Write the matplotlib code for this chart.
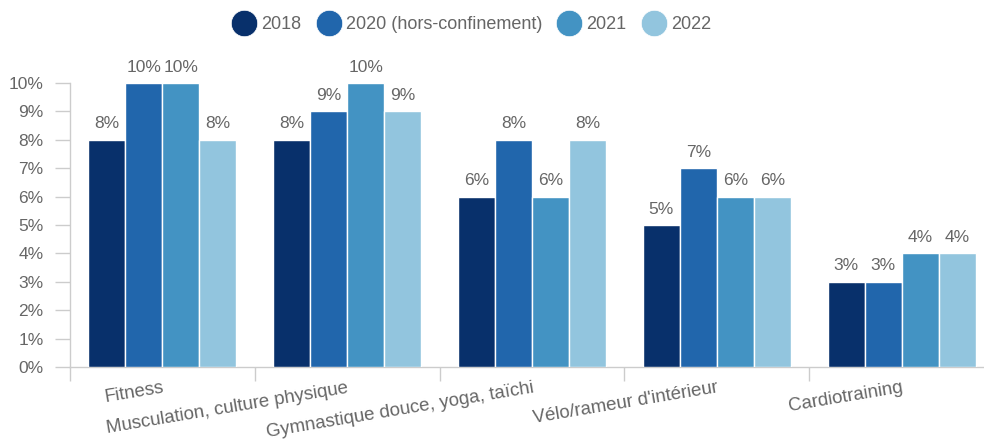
import matplotlib

matplotlib.use("Agg")

import matplotlib.pyplot as plt
import numpy as np
from matplotlib.lines import Line2D

plt.rcParams["font.family"] = ["Liberation Sans", "DejaVu Sans"]

categories = [
    "Fitness",
    "Musculation, culture physique",
    "Gymnastique douce, yoga, taïchi",
    "Vélo/rameur d'intérieur",
    "Cardiotraining",
]
series_names = ["2018", "2020 (hors-confinement)", "2021", "2022"]
values_2018 = [8, 8, 6, 5, 3]
values_2020 = [10, 9, 8, 7, 3]
values_2021 = [10, 10, 6, 6, 4]
values_2022 = [8, 9, 8, 6, 4]
y_ticks = [0, 1, 2, 3, 4, 5, 6, 7, 8, 9, 10]

colors = ["#08306b", "#2166ac", "#4393c3", "#92c5de"]
text_color = "#666666"
line_color = "#cccccc"

series = [values_2018, values_2020, values_2021, values_2022]

fig = plt.figure(figsize=(9.84, 4.43), dpi=100)
ax = fig.add_axes([70 / 984, 76 / 443, 924 / 984, 284 / 443])

x = np.arange(len(categories))
bar_w = 0.2
for i, (vals, color) in enumerate(zip(series, colors)):
    pos = x + (i - 1.5) * bar_w
    bars = ax.bar(pos, vals, width=bar_w, color=color, edgecolor="white",
                  linewidth=1, zorder=3)
    for rect, v in zip(bars, vals):
        ax.annotate(f"{v}%", (rect.get_x() + rect.get_width() / 2, v),
                    xytext=(0, 6), textcoords="offset points",
                    ha="center", va="bottom", fontsize=12.5, color=text_color)

ax.set_xlim(-0.5, len(categories) - 0.5)
ax.set_ylim(0, 10)
ax.set_yticks(y_ticks)
ax.set_yticklabels([f"{t}%" for t in y_ticks])

# category names sit under the group centres, separators at the boundaries
ax.set_xticks(x)
ax.set_xticklabels(categories, rotation=9.5, ha="right", va="top",
                   rotation_mode="anchor")
ax.set_xticks(np.arange(len(categories) + 1) - 0.5, minor=True)
ax.tick_params(axis="x", which="major", length=0, pad=9,
               labelsize=13.4, labelcolor=text_color)
ax.tick_params(axis="x", which="minor", length=10, color=line_color, width=1)
ax.tick_params(axis="y", length=11, color=line_color, width=1, pad=8,
               labelsize=12.5, labelcolor=text_color)

for side in ["top", "right"]:
    ax.spines[side].set_visible(False)
for side in ["left", "bottom"]:
    ax.spines[side].set_color(line_color)
    ax.spines[side].set_linewidth(1)

handles = [Line2D([], [], marker="o", linestyle="none", markersize=19,
                  markerfacecolor=c, markeredgecolor="white", markeredgewidth=0.5)
           for c in colors]
fig.legend(handles, series_names, loc="center", bbox_to_anchor=(0.478, 0.945),
           ncol=4, frameon=False, fontsize=13, labelcolor=text_color,
           handletextpad=0.15, columnspacing=0.7, handlelength=1.6)

fig.savefig("out.png", dpi=100)
